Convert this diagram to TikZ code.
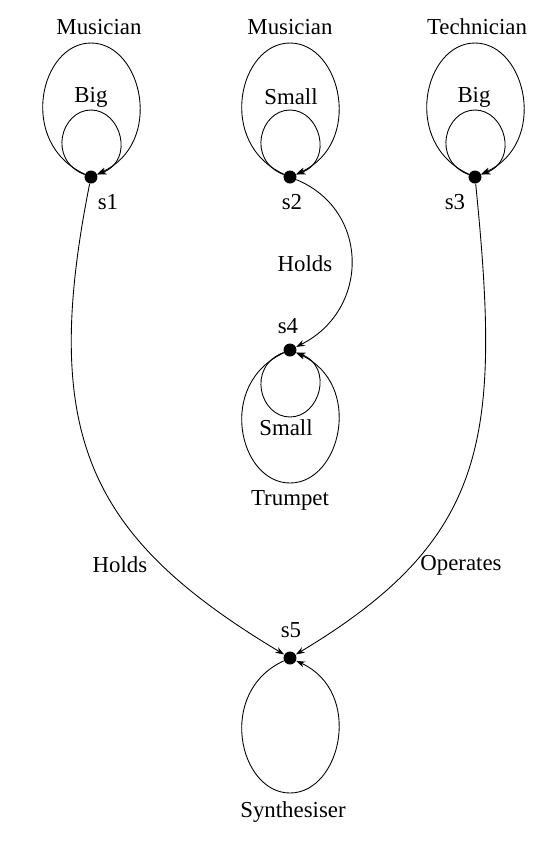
\documentclass[tikz,border=0pt]{standalone}
\usepackage{fontspec}
\setmainfont{Liberation Serif}
\usetikzlibrary{arrows.meta}

\tikzset{
    state/.style={circle, fill=black, inner sep=0pt, minimum size=0.26cm},
    link/.style={-{Stealth[length=5pt, width=3.5pt]}, line width=0.5pt},
}

\begin{document}
\begin{tikzpicture}[x=0.02cm, y=-0.02cm, font=\fontsize{13}{15}\selectfont]
    \useasboundingbox (0,0) rectangle (550,850);

    % States
    \node[state] (s1) at (91, 177) {};
    \node[state] (s2) at (290, 177) {};
    \node[state] (s3) at (475, 177) {};
    \node[state] (s4) at (290, 350) {};
    \node[state] (s5) at (290, 658) {};
    \node (s1name) at (108, 202) {s1};
    \node (s2name) at (292, 202) {s2};
    \node (s3name) at (455, 202) {s3};
    \node (s4name) at (288, 326) {s4};
    \node (s5name) at (291, 630) {s5};

    % Loops on top
    \draw[link] (s1) .. controls +(-74,-34) and +(-51,0) .. ++(0,-134)
        .. controls +(51,0) and +(74,-34) .. (s1);
    \draw[link] (s1) .. controls +(-44,-17) and +(-30,0) .. ++(0,-67)
        .. controls +(30,0) and +(44,-17) .. (s1);
    \node (mus1) at (99, 27) {Musician};
    \node (big1) at (91, 97) {Big};

    \draw[link] (s2) .. controls +(-74,-34) and +(-51,0) .. ++(0,-134)
        .. controls +(51,0) and +(74,-34) .. (s2);
    \draw[link] (s2) .. controls +(-44,-17) and +(-30,0) .. ++(0,-67)
        .. controls +(30,0) and +(44,-17) .. (s2);
    \node (mus2) at (290, 27) {Musician};
    \node (small2) at (291, 97) {Small};

    \draw[link] (s3) .. controls +(-74,-34) and +(-51,0) .. ++(0,-134)
        .. controls +(51,0) and +(74,-34) .. (s3);
    \draw[link] (s3) .. controls +(-44,-17) and +(-30,0) .. ++(0,-67)
        .. controls +(30,0) and +(44,-17) .. (s3);
    \node (tech3) at (477, 27) {Technician};
    \node (big3) at (474, 97) {Big};

    % Loops below
    \draw[link] (s4) .. controls +(-74,34) and +(-51,0) .. ++(0,133)
        .. controls +(51,0) and +(74,34) .. (s4);
    \draw[link] (s4) .. controls +(-44,17) and +(-30,0) .. ++(0,67)
        .. controls +(30,0) and +(44,17) .. (s4);
    \node (small4) at (286, 428) {Small};
    \node (trumpet) at (290, 500) {Trumpet};

    \draw[link] (s5) .. controls +(-74,34) and +(-51,0) .. ++(0,135)
        .. controls +(51,0) and +(74,34) .. (s5);
    \node (synth) at (293, 812) {Synthesiser};

    % Relations
    \draw[link] (s2) .. controls (370, 210) and (370, 310) .. (s4);
    \node (holds24) at (305, 264) {Holds};

    \draw[link] (s1) .. controls (39, 437) and (90, 538) .. (s5);
    \node (holds15) at (120, 565) {Holds};

    \draw[link] (s3) .. controls (501, 437) and (490, 538) .. (s5);
    \node (operates) at (461, 565) {Operates};
\end{tikzpicture}
\end{document}
